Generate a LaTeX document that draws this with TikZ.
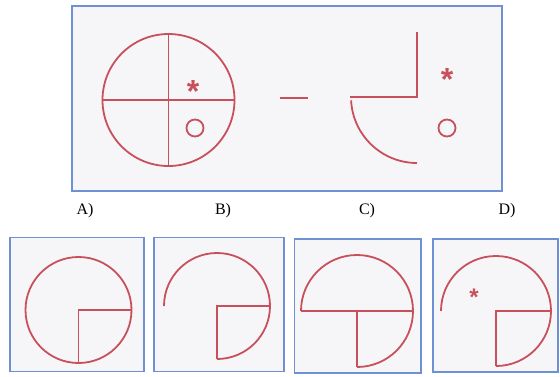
\documentclass[tikz,border=0pt]{standalone}
\usepackage{fontspec}
\setmainfont{Liberation Serif}
\newfontfamily\starfont{Liberation Sans}
\definecolor{lred}{RGB}{200,80,92}
\definecolor{lblue}{RGB}{110,145,212}
\definecolor{lbg}{RGB}{246,246,248}
\tikzset{
  frame/.style={draw=lblue, line width=1.3pt, fill=lbg},
  fig/.style={draw=lred, line width=1.8pt},
  lab/.style={font=\fontsize{16}{18}\selectfont, inner sep=0pt},
  starmark/.style={text=lred, font=\starfont\bfseries\fontsize{32}{32}\selectfont, inner sep=0pt}
}
\begin{document}
\begin{tikzpicture}[x=1pt,y=-1pt]
\useasboundingbox (0,0) rectangle (560,376);
\fill[white] (0,0) rectangle (560,376);
% top frame
\draw[frame] (72,6) rectangle (502,191);
% big circle
\draw[fig] (168.5,100) circle[radius=66pt];
\draw[fig] (102.5,100) -- (234.5,100);
\draw[fig] (168.5,34) -- (168.5,166);
\node[starmark] (s1) at (193,91) {*};
\draw[fig] (195,128) circle[radius=8.5pt];
% minus
\draw[fig] (280,98) -- (308,98);
% second figure
\draw[fig] (417,32) -- (417,97) -- (350,97);
\draw[fig] (417,97) ++(183:66pt) arc[start angle=183, end angle=270, radius=66pt];
\node[starmark] (s2) at (447,79) {*};
\draw[fig] (447,128) circle[radius=8.5pt];
% labels
\node[lab] (la) at (85,211) {A)};
\node[lab] (lb) at (223,211) {B)};
\node[lab] (lc) at (367,211) {C)};
\node[lab] (ld) at (507,211) {D)};
% A
\draw[frame] (10,237.5) rectangle (144,371.5);
\draw[fig] (78.5,310) circle[radius=53pt];
\draw[fig] (131.5,310) -- (78.5,310) -- (78.5,363);
% B
\draw[frame] (154,237.5) rectangle (284,371.5);
\draw[fig] (217,306) ++(-90:53pt) arc[start angle=-90, end angle=180, radius=53pt];
\draw[fig] (270,306) -- (217,306) -- (217,359);
% C
\draw[frame] (294.5,239) rectangle (421,373);
\draw[fig] (357,311) ++(180:56pt) arc[start angle=180, end angle=-90, radius=56pt];
\draw[fig] (301,311) -- (413,311);
\draw[fig] (357,311) -- (357,367);
% D
\draw[frame] (433,239) rectangle (558,372);
\draw[fig] (496,311) ++(-90:55pt) arc[start angle=-90, end angle=180, radius=55pt];
\draw[fig] (551,311) -- (496,311) -- (496,366);
\node[starmark, font=\starfont\bfseries\fontsize{24}{24}\selectfont] (s3) at (474,297) {*};
\end{tikzpicture}
\end{document}
